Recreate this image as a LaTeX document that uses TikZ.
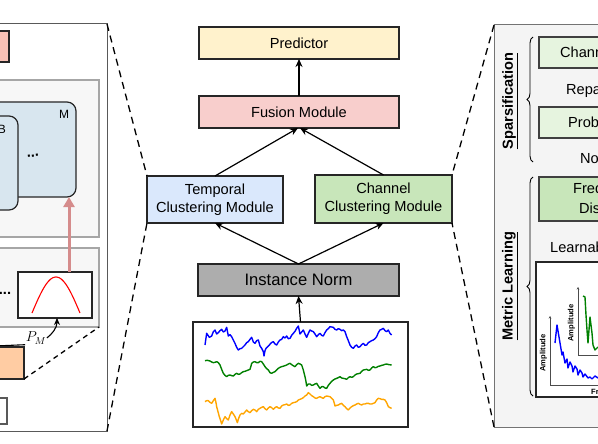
\documentclass[tikz,border=0pt]{standalone}
\usepackage{fontspec}
\setmainfont{Liberation Sans}
\usetikzlibrary{arrows.meta,decorations.pathreplacing,calc}
\definecolor{predfill}{HTML}{FFF2CC}
\definecolor{fusfill}{HTML}{F8CECC}
\definecolor{tempfill}{HTML}{DAE8FC}
\definecolor{chanfill}{HTML}{C8E6BA}
\definecolor{lightgreen}{HTML}{E6F4DF}
\definecolor{normfill}{HTML}{ADADAD}
\definecolor{salmon}{HTML}{F9C2B6}
\definecolor{peach}{HTML}{FFCCA3}
\definecolor{mfill}{HTML}{D8E6EF}
\definecolor{panelgray}{HTML}{F7F7F7}
\definecolor{rpanelfill}{HTML}{F4F4F4}
\definecolor{redarrow}{HTML}{D58C8C}
\definecolor{serorange}{HTML}{FFA500}
\definecolor{sergreen}{HTML}{008000}
\begin{document}
\begin{tikzpicture}[x=1pt,y=-1pt,
  base/.style={font=\fontsize{14.6}{17.7}\selectfont},
  mbox/.style={draw=black!85, line width=1.2pt, inner sep=0pt, outer sep=0pt, base, align=center},
  rbox/.style={draw=black!85, line width=1.2pt, inner sep=0pt, outer sep=0pt, anchor=north west},
  lbl/.style={base, inner sep=0pt, anchor=west},
  arr/.style={line width=1.2pt, -{Stealth[length=8pt,width=7pt]}},
  zoomline/.style={line width=1.3pt, dash pattern=on 7pt off 5pt},
  sidetitle/.style={font=\fontsize{14.6}{17}\selectfont\bfseries, rotate=90, inner sep=0pt},
  bracestyle/.style={line width=0.9pt, decorate, decoration={brace, amplitude=6pt}},
  axisline/.style={line width=0.8pt, draw=black!70},
  tiny/.style={font=\fontsize{7.6}{8}\selectfont\bfseries, inner sep=0pt},
  series/.style={line width=1.4pt, line join=round}
]
\useasboundingbox (0,0) rectangle (598,444);
\clip (0,0) rectangle (598,444);

% ---------------- left panel ----------------
\node[rbox, draw=black!65, line width=1pt, fill=white, minimum width=117pt, minimum height=407pt] (lpanel) at (-10,24) {};
\node[rbox, fill=salmon, minimum width=19pt, minimum height=31pt] (sbox) at (-10,31) {};
\node[rbox, draw=black!35, fill=panelgray, minimum width=109pt, minimum height=157pt] (gp1) at (-10,80) {};
\node[rbox, fill=mfill, rounded corners=9pt, minimum width=86pt, minimum height=95pt] (Mbox) at (-10,102) {};
\node[rbox, fill=mfill, rounded corners=9pt, minimum width=58pt, minimum height=94pt] (Bbox) at (-40,116) {};
\node[font=\fontsize{12}{12}\selectfont, inner sep=0pt] (Mlbl) at (64,114) {M};
\node[font=\fontsize{12}{12}\selectfont, inner sep=0pt] (Blbl) at (2,129) {B};
\node[base, inner sep=0pt, rotate=8] (dots1) at (33,156) {\textbf{...}};

\node[rbox, draw=black!35, fill=panelgray, minimum width=109pt, minimum height=79pt] (gp2) at (-10,248) {};
\node[base, inner sep=0pt] (dots2) at (5,293) {\textbf{...}};
\node[rbox, fill=white, minimum width=74pt, minimum height=46pt] (gauss) at (18,272) {};
\draw[red, line width=1.1pt] plot[domain=-1:1, samples=41] ({56+24*\x}, {313-36*cos(90*\x)});
\draw[redarrow, line width=3pt, -{Triangle[length=10pt,width=11pt]}]
  ([xshift=14pt]gauss.north) -- ([xshift=14pt]gauss.north |- Mbox.south);

\node[font=\fontsize{14}{14}\selectfont, inner sep=0.5pt] (pm) at (36,338) {$P_M$};
\coordinate (pmsrc) at (-5,346);
\draw[line width=1.1pt] (pmsrc) -- (pm.south west);
\draw[line width=1.1pt, -{Stealth[length=7pt,width=6pt]}] (pm.east) .. controls (52,334) and (57,328) .. ([xshift=2pt]gauss.south);

\node[rbox, fill=peach, minimum width=34pt, minimum height=32pt] (peachbox) at (-10,347) {};
\draw[line width=1.3pt, dash pattern=on 5pt off 4pt] (peachbox.south east) -- (gp2.south east);
\node[rbox, draw=black!65, fill=white, minimum width=17pt, minimum height=26pt] (wbox) at (-10,398) {};

% ---------------- right panel ----------------
\node[rbox, draw=black!55, line width=1pt, fill=rpanelfill, minimum width=120pt, minimum height=402pt] (rpanel) at (494,25) {};
\node[sidetitle] (spars) at (510,101) {\underline{Sparsification}};
\draw[bracestyle] (533,162) -- (533,37);
\node[rbox, draw=black!75, fill=lightgreen, minimum width=80pt, minimum height=31pt] (chbox) at (539,37) {};
\node[lbl] (chtxt) at (560,52) {Chann};
\node[lbl] (repa) at (566,91) {Repa};
\node[rbox, draw=black!75, fill=lightgreen, minimum width=80pt, minimum height=31pt] (prbox) at (539,107) {};
\node[lbl] (prtxt) at (568,122) {Prob};
\node[lbl] (notxt) at (580,159) {No};

\node[sidetitle] (metric) at (510,286) {\underline{Metric Learning}};
\draw[bracestyle] (533,396) -- (533,177);
\node[rbox, draw=black!75, fill=chanfill, minimum width=80pt, minimum height=44pt] (frbox) at (539,177) {};
\node[lbl] (frtxt) at (573,190) {Freq};
\node[lbl] (distxt) at (579,208) {Dis};
\node[lbl] (learn) at (550,247) {Learnab};

\node[rbox, fill=white, minimum width=80pt, minimum height=135pt] (plotbox) at (536,262) {};
\coordinate (a1top) at (550,316);
\coordinate (a1o) at (550,385);
\coordinate (a1end) at (620,385);
\coordinate (a2top) at (578,287);
\coordinate (a2o) at (578,355);
\coordinate (a2end) at (620,355);
\draw[axisline, {Stealth[length=2.5pt,width=2.5pt]}-] (a1top) -- (a1o) -- (a1end);
\draw[axisline, {Stealth[length=2.5pt,width=2.5pt]}-] (a2top) -- (a2o) -- (a2end);
\node[tiny, rotate=90] (amp1) at (543.5,353) {Amplitude};
\node[tiny, rotate=90] (amp2) at (571.5,323) {Amplitude};
\node[tiny, anchor=west] (frlbl) at (591,392) {Fr};
\draw[blue, series] plot coordinates {(555,343) (557,325) (560,343) (562,355) (563,352) (565,363) (567,359) (568,368) (570,362) (572,366) (573,372) (575,366) (577,369) (578,375) (580,370) (582,373) (583,377) (585,374) (588,378) (590,377) (592,379) (595,376) (598,378)};
\draw[sergreen, series] plot coordinates {(583,296) (585,297) (586,315) (587,330) (588,343) (589,330) (590,317) (591,325) (592,333) (593,345) (595,350) (598,347)};

% ---------------- middle ----------------
\node[mbox, fill=predfill, minimum width=200pt, minimum height=32pt] (pred) at (299,43) {Predictor};
\node[mbox, fill=fusfill, minimum width=200pt, minimum height=32pt] (fus) at (299,112) {Fusion Module};
\node[mbox, fill=tempfill, minimum width=136pt, minimum height=47pt] (temp) at (215,199.5) {Temporal\\Clustering Module};
\node[mbox, fill=chanfill, minimum width=137pt, minimum height=48pt] (chan) at (383.5,199) {Channel\\Clustering Module};
\node[mbox, fill=normfill, minimum width=201pt, minimum height=32pt, font=\fontsize{16.6}{18}\selectfont] (inorm) at (298.5,280) {Instance Norm};
\node[rbox, anchor=center, fill=white, minimum width=215pt, minimum height=105pt] (series) at (300.5,374.5) {};

\draw[arr] (fus.north) -- (pred.south);
\draw[arr] (temp.north) -- ([xshift=-1pt]fus.south);
\draw[arr] (chan.north) -- ([xshift=1pt]fus.south);
\draw[arr] (inorm.north) -- (temp.south);
\draw[arr] (inorm.north) -- (chan.south);
\draw[arr] (series.north) -- (inorm.south);

\begin{scope}[shift={(180,230)}, scale=1/3]
\draw[blue, series] plot coordinates {(75,345) (80,310) (88,322) (95,318) (100,305) (105,300) (110,312) (115,308) (120,302) (125,298) (130,306) (135,303) (140,292) (145,318) (150,314) (155,320) (160,330) (165,340) (170,352) (175,360) (180,356) (185,355) (190,350) (195,345) (200,338) (205,335) (210,328) (215,322) (220,336) (225,340) (230,332) (235,330) (240,348) (245,355) (250,365) (252,378) (255,362) (258,355) (263,350) (268,345) (274,338) (280,335) (285,342) (290,345) (295,336) (300,330) (305,328) (310,320) (315,324) (320,318) (325,326) (330,325) (335,316) (340,310) (345,304) (350,295) (355,288) (360,312) (365,306) (370,300) (375,312) (380,322) (385,310) (390,300) (395,303) (400,305) (405,312) (410,320) (415,314) (420,310) (425,316) (430,318) (435,308) (440,300) (445,296) (450,290) (455,291) (460,292) (465,298) (470,300) (475,296) (480,298) (485,302) (490,300) (495,305) (500,320) (505,332) (510,345) (515,352) (520,355) (525,348) (530,345) (535,352) (540,350) (545,344) (550,340) (555,346) (560,345) (565,338) (570,335) (575,332) (580,330) (585,326) (590,320) (595,308) (600,300) (605,298) (610,295) (615,302) (620,305) (625,300) (630,310) (635,315)};
\draw[sergreen, series] plot coordinates {(75,392) (82,391) (90,393) (95,396) (100,398) (105,397) (110,395) (115,398) (120,405) (125,418) (130,430) (135,436) (140,440) (145,436) (150,435) (155,437) (160,438) (165,433) (170,430) (175,433) (180,432) (185,428) (190,425) (195,424) (200,422) (205,420) (210,418) (213,408) (215,400) (220,396) (225,395) (230,398) (235,398) (240,394) (245,395) (250,402) (255,410) (260,416) (265,420) (270,428) (275,430) (280,427) (285,425) (290,420) (295,415) (300,412) (305,410) (312,408) (320,405) (325,402) (330,400) (338,406) (345,410) (350,404) (355,400) (360,402) (365,405) (370,420) (375,440) (378,455) (380,468) (385,462) (390,462) (395,466) (400,465) (405,462) (410,460) (415,468) (420,475) (425,470) (430,470) (435,474) (440,475) (445,466) (450,460) (455,454) (460,450) (465,447) (470,445) (475,443) (480,440) (485,444) (490,445) (495,446) (500,448) (505,443) (510,440) (515,442) (520,440) (525,435) (530,432) (535,431) (540,430) (545,424) (550,420) (555,419) (560,418) (565,421) (570,420) (575,414) (580,410) (585,413) (590,412) (595,409) (600,408) (605,406) (610,405) (615,403) (620,402) (627,404) (635,405)};
\draw[serorange, series] plot coordinates {(75,515) (80,512) (85,512) (90,517) (95,520) (100,512) (105,505) (108,518) (110,530) (114,545) (118,560) (122,572) (125,582) (130,570) (135,560) (140,566) (145,570) (150,555) (155,545) (160,552) (165,560) (170,572) (172,578) (176,565) (180,555) (185,550) (190,552) (195,546) (200,540) (205,545) (210,548) (215,542) (220,538) (225,540) (230,545) (235,538) (240,535) (245,532) (250,530) (255,536) (260,540) (265,534) (270,530) (275,533) (280,538) (285,533) (290,530) (295,534) (300,535) (305,528) (310,525) (315,524) (320,522) (325,526) (330,525) (335,520) (340,518) (345,517) (350,515) (355,510) (360,508) (365,506) (370,503) (375,498) (380,495) (385,488) (390,492) (395,497) (400,500) (405,504) (410,505) (415,502) (420,500) (425,503) (430,505) (435,500) (440,498) (445,499) (450,500) (455,505) (460,510) (463,520) (465,528) (470,526) (475,525) (480,522) (485,520) (490,526) (495,530) (500,536) (505,540) (510,534) (515,530) (520,527) (525,525) (530,522) (535,520) (540,523) (545,525) (550,522) (555,522) (560,520) (565,520) (570,522) (575,522) (580,520) (585,518) (590,510) (595,505) (600,506) (605,508) (610,508) (615,510) (620,518) (625,530) (630,533) (635,535)};
\end{scope}

% ---------------- zoom connectors ----------------
\draw[zoomline] (lpanel.north east) -- (temp.north west);
\draw[zoomline] (lpanel.south east) -- (temp.south west);
\draw[zoomline] (rpanel.north west) -- (chan.north east);
\draw[zoomline] (rpanel.south west) -- (chan.south east);
\end{tikzpicture}
\end{document}
